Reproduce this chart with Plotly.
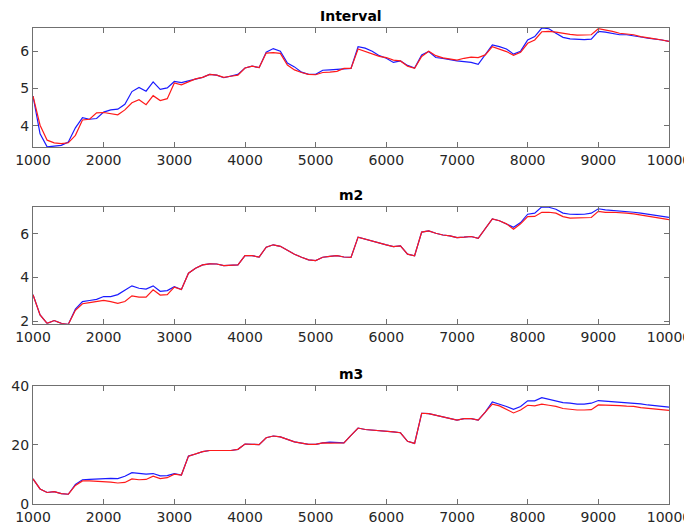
import plotly.graph_objects as go
from plotly.subplots import make_subplots

x_vals = list(range(1000, 10001, 100))

interval_blue = [4.80, 3.79, 3.44, 3.46, 3.48, 3.57, 3.95, 4.22, 4.18, 4.20,
                 4.37, 4.43, 4.45, 4.58, 4.92, 5.03, 4.93, 5.18, 4.98, 5.02,
                 5.19, 5.16, 5.21, 5.27, 5.30, 5.38, 5.36, 5.29, 5.34, 5.38,
                 5.55, 5.60, 5.56, 5.97, 6.07, 6.00, 5.68, 5.58, 5.44, 5.38,
                 5.38, 5.49, 5.50, 5.52, 5.54, 5.54, 6.12, 6.08, 6.00, 5.88,
                 5.81, 5.70, 5.74, 5.62, 5.55, 5.90, 5.99, 5.83, 5.81, 5.77,
                 5.74, 5.72, 5.70, 5.65, 5.90, 6.17, 6.12, 6.06, 5.92, 6.00,
                 6.30, 6.39, 6.62, 6.60, 6.48, 6.37, 6.33, 6.31, 6.31, 6.32,
                 6.53, 6.51, 6.48, 6.44, 6.44, 6.42, 6.38, 6.35, 6.33, 6.30,
                 6.26]
interval_red = [4.80, 4.02, 3.62, 3.55, 3.53, 3.55, 3.75, 4.16, 4.18, 4.35,
                4.36, 4.33, 4.30, 4.43, 4.62, 4.70, 4.57, 4.81, 4.68, 4.73,
                5.15, 5.10, 5.18, 5.26, 5.30, 5.38, 5.36, 5.30, 5.33, 5.36,
                5.55, 5.60, 5.56, 5.95, 5.96, 5.94, 5.63, 5.50, 5.43, 5.38,
                5.37, 5.43, 5.44, 5.46, 5.54, 5.54, 6.06, 5.99, 5.92, 5.86,
                5.83, 5.76, 5.74, 5.60, 5.54, 5.86, 6.00, 5.88, 5.82, 5.78,
                5.76, 5.81, 5.84, 5.83, 5.90, 6.12, 6.06, 5.99, 5.89, 5.97,
                6.21, 6.30, 6.52, 6.53, 6.51, 6.47, 6.45, 6.43, 6.44, 6.44,
                6.60, 6.57, 6.53, 6.48, 6.47, 6.44, 6.39, 6.35, 6.33, 6.30,
                6.26]

m2_blue = [3.21, 2.29, 1.90, 2.03, 1.90, 1.86, 2.55, 2.90, 2.95, 3.00,
           3.13, 3.13, 3.22, 3.44, 3.62, 3.51, 3.47, 3.62, 3.37, 3.40,
           3.58, 3.45, 4.20, 4.43, 4.58, 4.63, 4.62, 4.55, 4.55, 4.58,
           5.00, 5.00, 4.94, 5.39, 5.50, 5.43, 5.25, 5.07, 4.93, 4.81,
           4.78, 4.93, 4.97, 5.00, 4.94, 4.92, 5.85, 5.76, 5.65, 5.57,
           5.50, 5.42, 5.45, 5.07, 5.00, 6.08, 6.14, 6.03, 5.95, 5.91,
           5.83, 5.85, 5.88, 5.80, 6.26, 6.69, 6.60, 6.46, 6.30, 6.52,
           6.90, 6.95, 7.24, 7.22, 7.13, 6.95, 6.90, 6.89, 6.90, 6.95,
           7.15, 7.10, 7.08, 7.05, 7.02, 6.99, 6.95, 6.90, 6.84, 6.79,
           6.76]
m2_red = [3.21, 2.29, 1.90, 2.03, 1.90, 1.86, 2.50, 2.80, 2.85, 2.90,
          2.95, 2.90, 2.82, 2.90, 3.16, 3.10, 3.10, 3.44, 3.20, 3.22,
          3.56, 3.45, 4.20, 4.43, 4.58, 4.63, 4.62, 4.55, 4.55, 4.58,
          5.00, 5.00, 4.94, 5.39, 5.50, 5.43, 5.25, 5.07, 4.93, 4.81,
          4.78, 4.93, 4.97, 5.00, 4.94, 4.92, 5.85, 5.76, 5.65, 5.57,
          5.50, 5.42, 5.45, 5.07, 5.00, 6.08, 6.14, 6.03, 5.95, 5.91,
          5.83, 5.85, 5.88, 5.80, 6.26, 6.69, 6.60, 6.46, 6.21, 6.46,
          6.79, 6.80, 6.99, 6.99, 6.95, 6.79, 6.72, 6.72, 6.73, 6.75,
          7.03, 6.99, 6.99, 6.98, 6.95, 6.92, 6.86, 6.80, 6.75, 6.70,
          6.65]

m3_blue = [8.5, 5.1, 3.9, 4.2, 3.5, 3.3, 6.6, 8.2, 8.3, 8.45,
           8.8, 8.7, 8.6, 9.4, 10.6, 10.3, 10.1, 10.3, 9.5, 9.6,
           10.3, 9.8, 16.2, 16.9, 17.7, 18.1, 18.1, 17.9, 18.1, 18.5,
           20.3, 20.2, 20.1, 22.4, 23.0, 22.7, 21.8, 21.0, 20.6, 20.2,
           20.2, 20.7, 20.9, 20.7, 20.7, 23.2, 25.7, 25.2, 25.0, 24.9,
           24.8, 24.4, 24.1, 21.2, 20.5, 30.7, 30.6, 30.0, 29.5, 29.0,
           28.4, 28.9, 28.9, 28.4, 31.1, 34.5, 33.8, 33.0, 32.0, 33.0,
           34.9, 34.9, 36.0, 35.5, 34.9, 34.3, 34.1, 33.8, 33.8, 34.1,
           35.0, 34.8, 34.7, 34.4, 34.3, 34.2, 33.9, 33.5, 33.2, 33.0,
           32.8]
m3_red = [8.5, 5.1, 3.9, 4.2, 3.5, 3.3, 6.3, 7.8, 7.8, 7.7,
          7.5, 7.4, 7.1, 7.3, 8.5, 8.2, 8.3, 9.4, 8.6, 8.9,
          10.1, 9.8, 16.2, 16.9, 17.7, 18.1, 18.1, 17.9, 18.1, 18.5,
          20.3, 20.2, 20.1, 22.4, 23.0, 22.7, 21.8, 21.0, 20.6, 20.2,
          20.2, 20.7, 20.6, 20.7, 20.7, 23.2, 25.7, 25.2, 25.0, 24.9,
          24.8, 24.4, 24.1, 21.2, 20.5, 30.7, 30.6, 30.0, 29.5, 29.0,
          28.4, 28.9, 28.9, 28.4, 31.1, 33.8, 33.2, 32.0, 30.8, 31.8,
          33.4, 33.2, 33.8, 33.4, 33.0, 32.3, 32.0, 31.8, 31.8, 31.9,
          33.5, 33.5, 33.4, 33.3, 33.1, 33.0, 32.6, 32.4, 32.0, 31.8,
          31.7]

titles = ["Interval", "m2", "m3"]
x_ticks = list(range(1000, 10001, 1000))
x_tick_labels = [str(v) for v in x_ticks]
y_ticks = [[4, 5, 6], [2, 4, 6], [0, 20, 40]]
y_ranges = [[3.44, 6.62], [1.88, 7.25], [0, 40]]
series = [(interval_blue, interval_red), (m2_blue, m2_red), (m3_blue, m3_red)]

fig = make_subplots(rows=3, cols=1)
for i, (b, r) in enumerate(series, start=1):
    fig.add_trace(go.Scatter(x=x_vals, y=b, mode="lines",
                             line=dict(color="#1a1aff", width=1.2),
                             showlegend=False), row=i, col=1)
    fig.add_trace(go.Scatter(x=x_vals, y=r, mode="lines",
                             line=dict(color="#ff1a1a", width=1.2),
                             showlegend=False), row=i, col=1)

FONT = "DejaVu Sans, Liberation Sans, Arial"
domains = [[0.7502, 1.0], [0.3785, 0.6248], [0.0, 0.2484]]
axis_common = dict(showline=True, linecolor="#707070", linewidth=1,
                   mirror="ticks", ticks="inside", ticklen=5,
                   tickcolor="#707070", showgrid=False, zeroline=False,
                   automargin=False,
                   tickfont=dict(family=FONT, size=14, color="#262626"))
for i in range(3):
    xa = "xaxis" if i == 0 else f"xaxis{i+1}"
    ya = "yaxis" if i == 0 else f"yaxis{i+1}"
    fig.layout[xa].update(range=[1000, 10000], tickvals=x_ticks,
                          ticktext=x_tick_labels, domain=[0, 1],
                          **axis_common)
    fig.layout[ya].update(range=y_ranges[i], tickvals=y_ticks[i],
                          domain=domains[i], **axis_common)
    fig.add_annotation(text=f"<b>{titles[i]}</b>", x=0.5, y=domains[i][1],
                       xref="paper", yref="paper", xanchor="center",
                       yanchor="bottom", yshift=2, showarrow=False,
                       font=dict(family=FONT, size=14, color="#000000"))

fig.update_layout(width=692, height=531, plot_bgcolor="white",
                  paper_bgcolor="white",
                  margin=dict(l=25, r=31, t=20, b=35))
fig.write_html("out.html")
